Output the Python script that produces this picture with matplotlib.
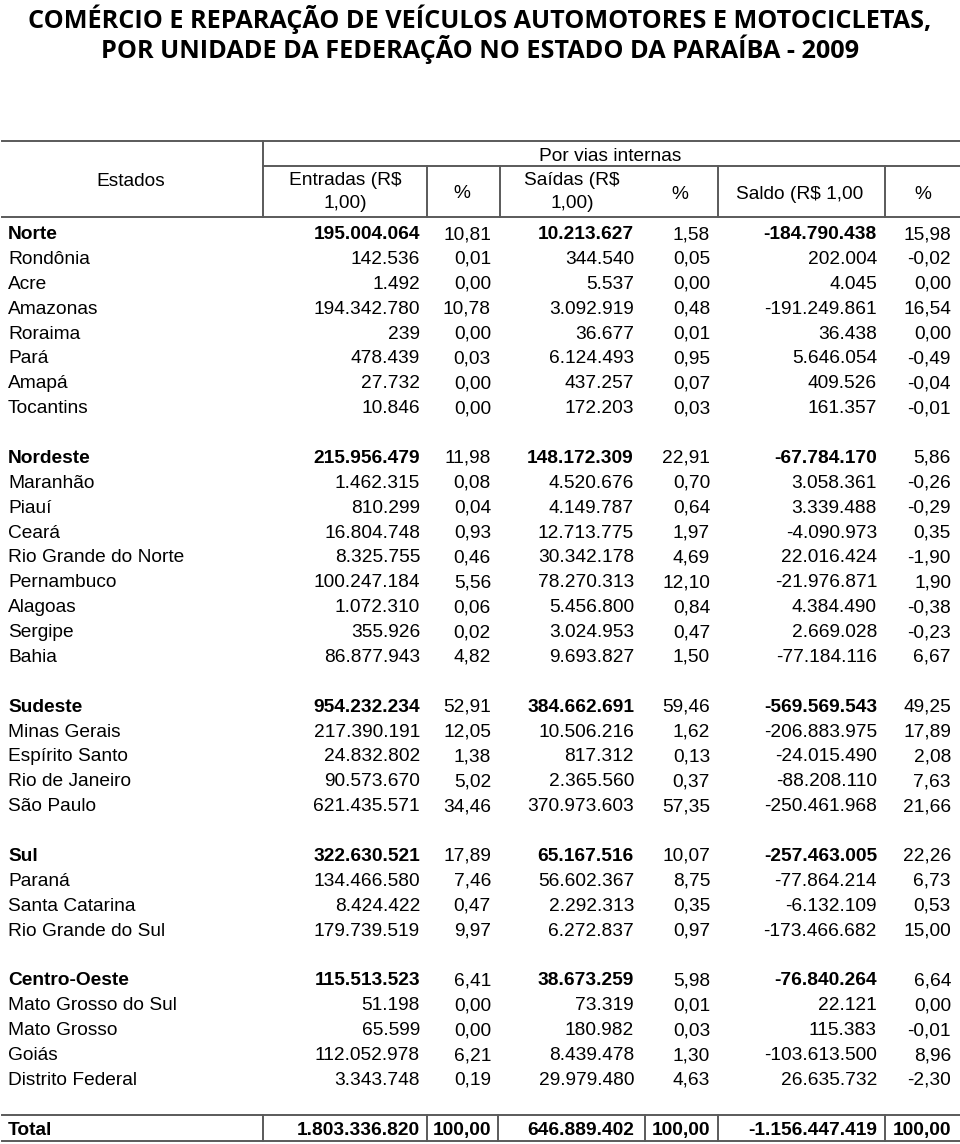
import matplotlib
matplotlib.use("Agg")
import matplotlib.pyplot as plt

# dados da tabela (valores em R$ 1,00 e %)
estados = ["Norte", "Rondônia", "Acre", "Amazonas", "Roraima", "Pará", "Amapá", "Tocantins",
           "Nordeste", "Maranhão", "Piauí", "Ceará", "Rio Grande do Norte", "Pernambuco",
           "Alagoas", "Sergipe", "Bahia",
           "Sudeste", "Minas Gerais", "Espírito Santo", "Rio de Janeiro", "São Paulo",
           "Sul", "Paraná", "Santa Catarina", "Rio Grande do Sul",
           "Centro-Oeste", "Mato Grosso do Sul", "Mato Grosso", "Goiás", "Distrito Federal"]
regioes = ["Norte", "Nordeste", "Sudeste", "Sul", "Centro-Oeste"]

entradas = [195004064, 142536, 1492, 194342780, 239, 478439, 27732, 10846,
            215956479, 1462315, 810299, 16804748, 8325755, 100247184, 1072310, 355926, 86877943,
            954232234, 217390191, 24832802, 90573670, 621435571,
            322630521, 134466580, 8424422, 179739519,
            115513523, 51198, 65599, 112052978, 3343748]
pct_entradas = [10.81, 0.01, 0.00, 10.78, 0.00, 0.03, 0.00, 0.00,
                11.98, 0.08, 0.04, 0.93, 0.46, 5.56, 0.06, 0.02, 4.82,
                52.91, 12.05, 1.38, 5.02, 34.46,
                17.89, 7.46, 0.47, 9.97,
                6.41, 0.00, 0.00, 6.21, 0.19]
saidas = [10213627, 344540, 5537, 3092919, 36677, 6124493, 437257, 172203,
          148172309, 4520676, 4149787, 12713775, 30342178, 78270313, 5456800, 3024953, 9693827,
          384662691, 10506216, 817312, 2365560, 370973603,
          65167516, 56602367, 2292313, 6272837,
          38673259, 73319, 180982, 8439478, 29979480]
pct_saidas = [1.58, 0.05, 0.00, 0.48, 0.01, 0.95, 0.07, 0.03,
              22.91, 0.70, 0.64, 1.97, 4.69, 12.10, 0.84, 0.47, 1.50,
              59.46, 1.62, 0.13, 0.37, 57.35,
              10.07, 8.75, 0.35, 0.97,
              5.98, 0.01, 0.03, 1.30, 4.63]
saldo = [-184790438, 202004, 4045, -191249861, 36438, 5646054, 409526, 161357,
         -67784170, 3058361, 3339488, -4090973, 22016424, -21976871, 4384490, 2669028, -77184116,
         -569569543, -206883975, -24015490, -88208110, -250461968,
         -257463005, -77864214, -6132109, -173466682,
         -76840264, 22121, 115383, -103613500, 26635732]
pct_saldo = [15.98, -0.02, 0.00, 16.54, 0.00, -0.49, -0.04, -0.01,
             5.86, -0.26, -0.29, 0.35, -1.90, 1.90, -0.38, -0.23, 6.67,
             49.25, 17.89, 2.08, 7.63, 21.66,
             22.26, 6.73, 0.53, 15.00,
             6.64, 0.00, -0.01, 8.96, -2.30]
total = ["Total", 1803336820, 100.00, 646889402, 100.00, -1156447419, 100.00]

titulo = ("COMÉRCIO E REPARAÇÃO DE VEÍCULOS AUTOMOTORES E MOTOCICLETAS,",
          "POR UNIDADE DA FEDERAÇÃO NO ESTADO DA PARAÍBA - 2009")


def fmt_int(v):
    return f"{v:,}".replace(",", ".")


def fmt_pct(v):
    return f"{v:.2f}".replace(".", ",")


FONT = "Liberation Sans"
FS = 13.8
DY = 7  # centro visual -> linha de base
LINE = "#5a5a5a"

fig = plt.figure(figsize=(9.6, 11.44), dpi=100)
ax = fig.add_axes([0, 0, 1, 1])
ax.set_xlim(0, 960)
ax.set_ylim(1144, 0)
ax.axis("off")

# titulo
tit = []
for txt, y in zip(titulo, [28, 58]):
    tit.append(ax.text(480, y, txt, ha="center", va="baseline", fontsize=22,
                       fontfamily=["Liberation Sans Narrow", "Open Sans"], fontweight="bold"))
fig.canvas.draw()
r = fig.canvas.get_renderer()
w = tit[0].get_window_extent(r).width
for t in tit:
    t.set_fontsize(22 * 904 / w)

# cabecalho
for y, x0 in [(141, 2), (166, 263), (217, 2)]:
    ax.plot([x0, 960], [y, y], color=LINE, lw=1.4)
for x in [263, 427, 500, 718, 885]:
    ax.plot([x, x], [166 if x != 263 else 141, 217], color=LINE, lw=1.4)

hdr = dict(fontsize=FS, fontfamily=FONT, ha="center", va="baseline")
ax.text(131, 179 + DY, "Estados", **hdr)
ax.text(610, 154 + DY, "Por vias internas", **hdr)
ax.text(345, 178 + DY, "Entradas (R$", **hdr)
ax.text(345, 201 + DY, "1,00)", **hdr)
ax.text(462, 191 + DY, "%", **hdr)
ax.text(572, 178 + DY, "Saídas (R$", **hdr)
ax.text(572, 201 + DY, "1,00)", **hdr)
ax.text(680, 192 + DY, "%", **hdr)
ax.text(800, 192 + DY, "Saldo (R$ 1,00", **hdr)
ax.text(923, 192 + DY, "%", **hdr)

# colunas: borda direita de cada coluna numerica
xs = [420, 491, 634, 710, 877, 951]

row_h = 24.88
y = 232
for i, est in enumerate(estados):
    if est in regioes and i > 0:
        y += row_h
    bold = "bold" if est in regioes else "normal"
    kw = dict(fontsize=FS, fontfamily=FONT, va="baseline")
    ax.text(8, y + DY, est, ha="left", fontweight=bold, **kw)
    vals = [fmt_int(entradas[i]), fmt_pct(pct_entradas[i]), fmt_int(saidas[i]),
            fmt_pct(pct_saidas[i]), fmt_int(saldo[i]), fmt_pct(pct_saldo[i])]
    for j, (x, v) in enumerate(zip(xs, vals)):
        ax.text(x, y + DY, v, ha="right", fontweight=bold if j % 2 == 0 else "normal", **kw)
    y += row_h

# linha total
yt = 1128
ax.plot([2, 960], [1115, 1115], color=LINE, lw=1.4)
ax.plot([2, 960], [1141, 1141], color=LINE, lw=1.4)
for x in [263, 427, 498, 645, 718, 885]:
    ax.plot([x, x], [1115, 1141], color=LINE, lw=1.4)
kw = dict(fontsize=FS, fontfamily=FONT, va="baseline", fontweight="bold")
ax.text(8, yt + DY, total[0], ha="left", **kw)
tvals = [fmt_int(total[1]), fmt_pct(total[2]), fmt_int(total[3]),
         fmt_pct(total[4]), fmt_int(total[5]), fmt_pct(total[6])]
for x, v in zip(xs, tvals):
    ax.text(x, yt + DY, v, ha="right", **kw)

fig.savefig("out.png", dpi=100)
